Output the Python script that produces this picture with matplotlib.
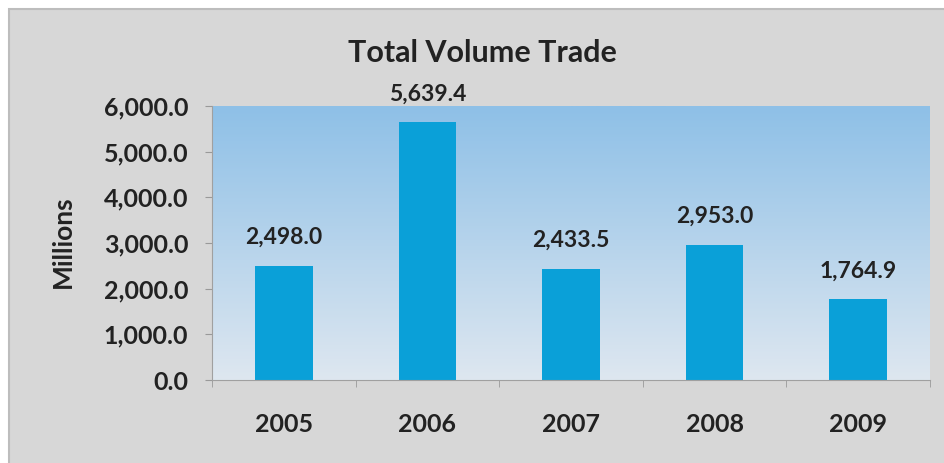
import numpy as np
import matplotlib.pyplot as plt
from matplotlib.patches import Rectangle
from matplotlib.ticker import FuncFormatter

# Total volume traded per year (millions)
years = ["2005", "2006", "2007", "2008", "2009"]
volume = [2498.0, 5639.4, 2433.5, 2953.0, 1764.9]

plt.rcParams['font.family'] = ['Lato', 'DejaVu Sans']
plt.rcParams['font.weight'] = 'bold'

W, H = 945, 463
fig = plt.figure(figsize=(W / 100, H / 100), dpi=100)
fig.patch.set_facecolor('white')

# gray chart panel
panel = Rectangle((9 / W, -0.01), 1.01, 1 - 9 / H + 0.01, transform=fig.transFigure,
                  facecolor='#d7d7d7', edgecolor='#bdbdbd', linewidth=1.5, zorder=-10)
fig.patches.append(panel)

ax = fig.add_axes([212 / W, 1 - 380 / H, 718 / W, 274 / H])
ax.set_facecolor('none')

x = np.arange(len(years))
xmin, xmax = -0.5, len(years) - 0.5

# vertical blue gradient behind the bars
grad = np.linspace(0, 1, 256).reshape(-1, 1, 1)
top = np.array([0x8e, 0xc0, 0xe7]) / 255
bottom = np.array([0xde, 0xe7, 0xf0]) / 255
img = top + (bottom - top) * grad
ax.imshow(img, extent=(xmin, xmax, 0, 6000), aspect='auto', zorder=0, origin='upper')
ax.set_xlim(xmin, xmax)
ax.set_ylim(0, 6000)

ax.bar(x, volume, width=0.4, color='#0aa0d8', zorder=2)
for xi, v in zip(x, volume):
    ax.annotate(f"{v:,.1f}", (xi, v), xytext=(0, 13), textcoords='offset points',
                ha='center', va='bottom', fontsize=16.5, color='#222222',
                fontweight='bold')

ax.set_yticks(np.arange(0, 6001, 1000))
ax.yaxis.set_major_formatter(FuncFormatter(lambda v, p: f"{v:,.1f}"))
ax.tick_params(axis='y', labelsize=18, colors='#999999', labelcolor='#222222',
               length=5, pad=12)

# category labels, with small ticks at the boundaries between categories
ax.set_xticks(x)
ax.set_xticklabels(years)
ax.set_xticks(np.arange(xmin, xmax + 0.01, 1.0), minor=True)
ax.tick_params(axis='x', which='major', length=0, labelsize=18, labelcolor='#222222',
               pad=24)
ax.tick_params(axis='x', which='minor', length=5, color='#999999')

for s in ['top', 'right']:
    ax.spines[s].set_visible(False)
ax.spines['left'].set_color('#a0a0a0')
ax.spines['bottom'].set_color('#a0a0a0')

fig.text(63 / W, 1 - 242 / H, "Millions", rotation=90, ha='center', va='center',
         fontsize=19, fontweight='bold', color='#222222')
fig.text(482 / W, 1 - 62 / H, "Total Volume Trade", ha='center', va='baseline',
         fontsize=22, fontweight='bold', color='#222222')

fig.savefig("out.png", dpi=100, facecolor=fig.get_facecolor())
